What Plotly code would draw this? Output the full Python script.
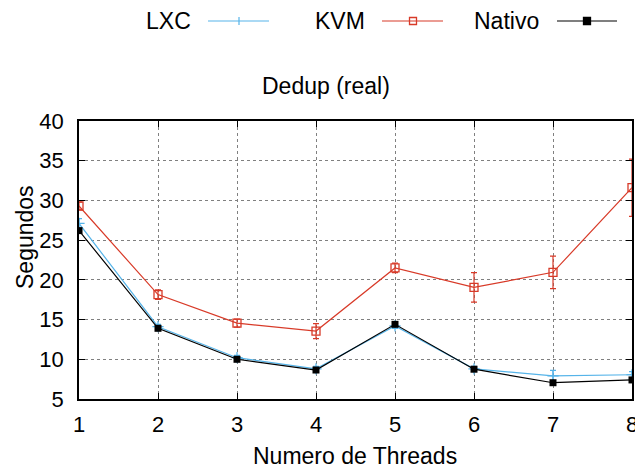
import plotly.graph_objects as go

threads = [1, 2, 3, 4, 5, 6, 7, 8]
lxc = [27.1, 14.1, 10.2, 8.8, 14.2, 8.8, 7.9, 8.05]
lxc_err = [0.6, 0.3, 0.3, 0.3, 0.3, 0.3, 0.7, 0.4]
kvm = [29.3, 18.15, 14.55, 13.55, 21.5, 19.05, 20.95, 31.6]
kvm_err = [0.5, 0.6, 0.5, 0.95, 0.6, 1.85, 2.05, 3.6]
nativo = [26.2, 13.9, 10.0, 8.65, 14.4, 8.75, 7.05, 7.4]
nativo_err = [0.2, 0.2, 0.2, 0.3, 0.2, 0.2, 0.2, 0.2]

x_ticks = [1, 2, 3, 4, 5, 6, 7, 8]
y_ticks = [5, 10, 15, 20, 25, 30, 35, 40]

C_LXC = "#56b4e9"
C_KVM = "#d83a28"
C_NAT = "#000000"
FONT = "Liberation Sans, Arial, sans-serif"

W, H = 635, 472
L, R, T, B = 79, 3, 121, 73
PW, PH = W - L - R, H - T - B

fig = go.Figure()
fig.add_trace(go.Scatter(
    x=threads, y=lxc, mode="lines+markers", name="LXC",
    line=dict(color=C_LXC, width=1.2),
    marker=dict(symbol="cross-thin", size=8, line=dict(color=C_LXC, width=1.2)),
    error_y=dict(type="data", array=lxc_err, color=C_LXC, thickness=1.2, width=3),
))
fig.add_trace(go.Scatter(
    x=threads, y=kvm, mode="lines+markers", name="KVM",
    line=dict(color=C_KVM, width=1.2),
    marker=dict(symbol="square-open", size=8, color=C_KVM, line=dict(color=C_KVM, width=1.3)),
    error_y=dict(type="data", array=kvm_err, color=C_KVM, thickness=1.2, width=3),
))
fig.add_trace(go.Scatter(
    x=threads, y=nativo, mode="lines+markers", name="Nativo",
    line=dict(color=C_NAT, width=1.2),
    marker=dict(symbol="square", size=7, color=C_NAT),
    error_y=dict(type="data", array=nativo_err, color=C_NAT, thickness=1, width=3),
))

def px2paper(px, py):
    return (px - L) / PW, (H - B - py) / PH

annotations = []
shapes = []

# Title
tx, ty = px2paper(326, 86)
annotations.append(dict(text="Dedup (real)", x=tx, y=ty, xref="paper", yref="paper",
                        showarrow=False, xanchor="center", yanchor="middle",
                        font=dict(family=FONT, size=23, color="black")))
# Y title
sx, sy = px2paper(25, 237)
annotations.append(dict(text="Segundos", x=sx, y=sy, xref="paper", yref="paper",
                        showarrow=False, xanchor="center", yanchor="middle", textangle=-90,
                        font=dict(family=FONT, size=23, color="black")))
# X title
nx, ny = px2paper(355, 456)
annotations.append(dict(text="Numero de Threads", x=nx, y=ny, xref="paper", yref="paper",
                        showarrow=False, xanchor="center", yanchor="middle",
                        font=dict(family=FONT, size=23, color="black")))

# Custom legend (text then sample line, gnuplot style)
legend_items = [
    ("LXC", 193, 208, 269, 239, C_LXC, "plus"),
    ("KVM", 367, 382, 443, 413, C_KVM, "open"),
    ("Nativo", 541, 557, 617, 587, C_NAT, "filled"),
]
ly = 21
for text, tx_r, x0, x1, mx, col, kind in legend_items:
    ax, ay = px2paper(tx_r, ly)
    annotations.append(dict(text=text, x=ax, y=ay, xref="paper", yref="paper",
                            showarrow=False, xanchor="right", yanchor="middle",
                            font=dict(family=FONT, size=23, color="black")))
    p0 = px2paper(x0, ly)
    p1 = px2paper(x1, ly)
    shapes.append(dict(type="line", xref="paper", yref="paper", x0=p0[0], x1=p1[0],
                       y0=p0[1], y1=p1[1], line=dict(color=col, width=1.2)))
    if kind == "plus":
        a = px2paper(mx - 4, ly - 4)
        b = px2paper(mx + 4, ly + 4)
        shapes.append(dict(type="line", xref="paper", yref="paper", x0=(a[0] + b[0]) / 2,
                           x1=(a[0] + b[0]) / 2, y0=a[1], y1=b[1], line=dict(color=col, width=1.2)))
    else:
        a = px2paper(mx - 3.5, ly - 3.5)
        b = px2paper(mx + 3.5, ly + 3.5)
        shapes.append(dict(type="rect", xref="paper", yref="paper", x0=a[0], x1=b[0],
                           y0=a[1], y1=b[1], line=dict(color=col, width=1.3),
                           fillcolor=col if kind == "filled" else "rgba(0,0,0,0)"))

axis_common = dict(
    showline=True, linecolor="black", linewidth=1.5, mirror="ticks",
    ticks="inside", ticklen=6, tickcolor="black", tickwidth=1,
    showgrid=True, gridcolor="#808080", gridwidth=1, griddash="dot",
    zeroline=False, tickfont=dict(family=FONT, size=22, color="black"),
    automargin=False, ticklabeloverflow="allow",
)

fig.update_xaxes(range=[1, 8], tickmode="array", tickvals=x_ticks,
                 ticktext=[str(v) for v in x_ticks], ticklabelstandoff=5, **axis_common)
fig.update_yaxes(range=[5, 40], tickmode="array", tickvals=y_ticks,
                 ticktext=[str(v) for v in y_ticks], ticklabelstandoff=9, **axis_common)

fig.update_layout(
    width=W, height=H,
    margin=dict(l=L, r=R, t=T, b=B, pad=0),
    paper_bgcolor="white", plot_bgcolor="white",
    showlegend=False,
    annotations=annotations, shapes=shapes,
    font=dict(family=FONT, color="black"),
)

fig.write_html("out.html")
